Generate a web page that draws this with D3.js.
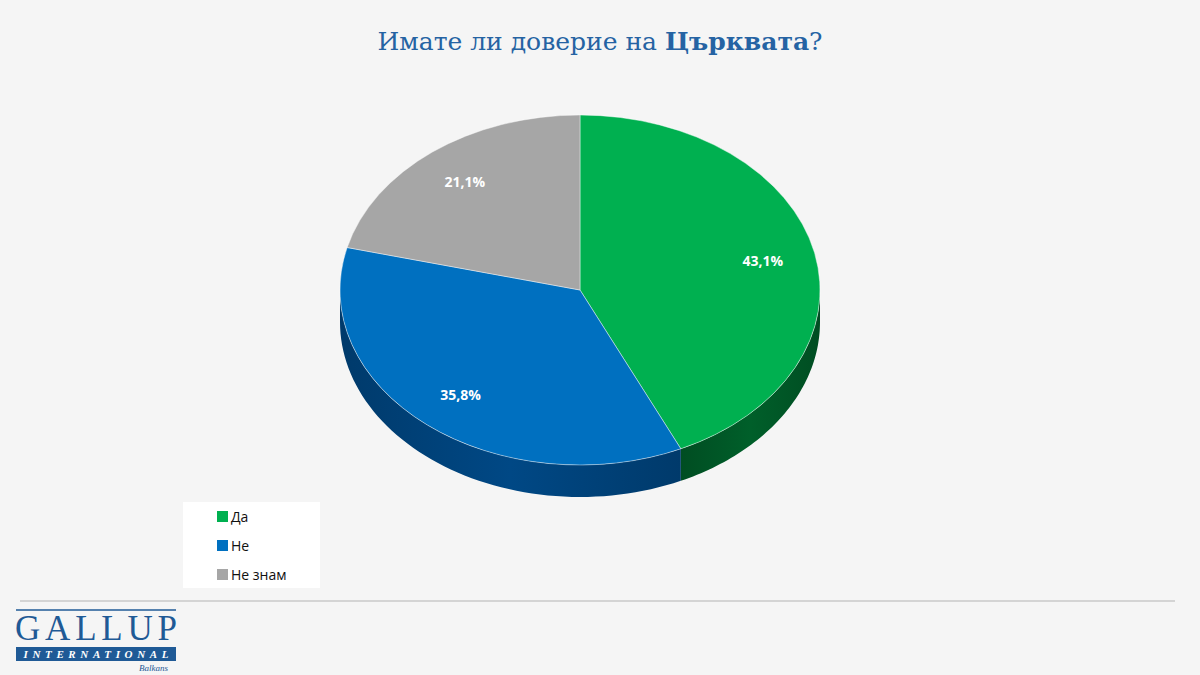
<!DOCTYPE html>
<html><head><meta charset="utf-8">
<script src="https://cdn.jsdelivr.net/npm/d3@7"></script>
<style>body{margin:0;background:#f5f5f5}</style></head>
<body><svg id="c" width="1200" height="675"></svg>
<script>
const categories = ["Да", "Не", "Не знам"];
const values = [43.1, 35.8, 21.1];
const labels = ["43,1%", "35,8%", "21,1%"];
const colors = ["#00b050", "#0070c0", "#a6a6a6"];
const sideColors = ["#004d22", "#003a6b", "#5a5a5a"];

const svg = d3.select("#c");
svg.append("rect").attr("width",1200).attr("height",675).attr("fill","#f5f5f5");

// title
const t = svg.append("text").attr("x",600).attr("y",50).attr("text-anchor","middle")
  .attr("font-family","'DejaVu Serif', 'Liberation Serif', serif").attr("font-size",25).attr("fill","#2563a3");
t.append("tspan").text("Имате ли доверие на ");
t.append("tspan").attr("font-weight","bold").text("Църквата");
t.append("tspan").text("?");

const cx = 580, cy = 290, rx = 240, ry = 175, depth = 32;
const pie = d3.pie().sort(null)(values);

// sides
const pt = (a, d) => [cx + rx*Math.sin(a), cy - ry*Math.cos(a) + d];
pie.forEach((p,i) => {
  const a0 = Math.max(p.startAngle, Math.PI/2), a1 = Math.min(p.endAngle, 3*Math.PI/2);
  if (a1 <= a0) return;
  const n = 60, pth = d3.path();
  for (let k=0;k<=n;k++){ const q = pt(a0+(a1-a0)*k/n,0); k?pth.lineTo(...q):pth.moveTo(...q); }
  for (let k=n;k>=0;k--){ pth.lineTo(...pt(a0+(a1-a0)*k/n,depth)); }
  pth.closePath();
  const g = svg.append("linearGradient").attr("id","g"+i).attr("x1",0).attr("x2",1);
  g.append("stop").attr("offset",0).attr("stop-color",sideColors[i]);
  g.append("stop").attr("offset",0.5).attr("stop-color",d3.color(sideColors[i]).brighter(0.6));
  g.append("stop").attr("offset",1).attr("stop-color",sideColors[i]);
  svg.append("path").attr("d",pth.toString()).attr("fill",`url(#g${i})`);
});

const arc = d3.arc().innerRadius(0).outerRadius(rx);
const topG = svg.append("g").attr("transform",`translate(${cx},${cy}) scale(1,${ry/rx})`);
topG.selectAll("path").data(pie).join("path").attr("d",arc)
  .attr("fill",(d,i)=>colors[i]).attr("stroke","#ffffff").attr("stroke-width",0.5);

const lab = d3.arc().innerRadius(rx*0.78).outerRadius(rx*0.78);
svg.selectAll(".lbl").data(pie).join("text")
  .attr("x",d=>cx+lab.centroid(d)[0]).attr("y",d=>cy+lab.centroid(d)[1]*ry/rx+5)
  .attr("text-anchor","middle").attr("fill","#fff").attr("font-weight","bold")
  .attr("font-family","'Open Sans', sans-serif").attr("font-size",14).text((d,i)=>labels[i]);

// legend
svg.append("rect").attr("x",183).attr("y",502).attr("width",137).attr("height",86).attr("fill","#fff");
const lg = svg.selectAll(".lg").data(categories).join("g").attr("transform",(d,i)=>`translate(217,${511+i*29})`);
lg.append("rect").attr("width",11).attr("height",11).attr("fill",(d,i)=>colors[i]);
lg.append("text").attr("x",14).attr("y",11).attr("font-family","'Open Sans', sans-serif").attr("font-size",14).attr("fill","#111").text(d=>d);

svg.append("line").attr("x1",20).attr("x2",1175).attr("y1",601).attr("y2",601).attr("stroke","#c8c8c8").attr("stroke-width",1.5);

// logo
const blue = "#1f5a96";
svg.append("line").attr("x1",16).attr("x2",176).attr("y1",610).attr("y2",610).attr("stroke",blue).attr("stroke-width",1.5);
svg.append("text").attr("x",96).attr("y",640).attr("text-anchor","middle").attr("font-family","'Liberation Serif', serif")
  .attr("font-size",35).attr("fill",blue).attr("textLength",162).text("GALLUP");
svg.append("rect").attr("x",16).attr("y",647).attr("width",160).attr("height",14).attr("fill",blue);
svg.append("text").attr("x",96).attr("y",658).attr("text-anchor","middle").attr("font-family","'Liberation Serif', serif")
  .attr("font-size",11).attr("font-style","italic").attr("font-weight","bold").attr("fill","#fff").attr("textLength",145).text("INTERNATIONAL");
svg.append("text").attr("x",168).attr("y",671).attr("text-anchor","end").attr("font-family","'Liberation Serif', serif")
  .attr("font-size",9).attr("font-style","italic").attr("fill",blue).text("Balkans");
</script></body></html>
